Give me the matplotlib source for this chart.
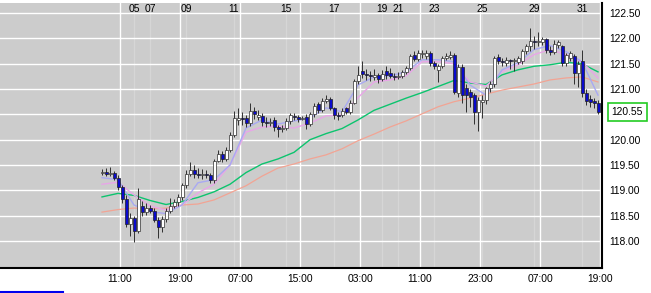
import matplotlib
matplotlib.use("Agg")
import matplotlib.pyplot as plt
import matplotlib.transforms as mtrans
from matplotlib.lines import Line2D
import numpy as np

plt.rcParams['font.family'] = ['Liberation Sans', 'DejaVu Sans']

# hourly-ish candles (125 bars)
opens = [119.34, 119.36, 119.32, 119.35, 119.25, 119.06, 118.82, 118.33, 118.45, 118.20,
         118.69, 118.58, 118.66, 118.60, 118.42, 118.27, 118.44, 118.60, 118.70, 118.76,
         118.86, 119.10, 119.32, 119.40, 119.33, 119.31, 119.33, 119.30, 119.20, 119.58,
         119.72, 119.62, 119.80, 120.10, 120.38, 120.42, 120.42, 120.33, 120.57, 120.45,
         120.47, 120.35, 120.33, 120.38, 120.25, 120.22, 120.24, 120.37, 120.47, 120.45,
         120.41, 120.45, 120.32, 120.50, 120.70, 120.58, 120.77, 120.80, 120.62, 120.48,
         120.48, 120.62, 120.55, 120.72, 121.15, 121.35, 121.30, 121.27, 121.24, 121.27,
         121.20, 121.35, 121.32, 121.26, 121.24, 121.26, 121.33, 121.42, 121.68, 121.60,
         121.70, 121.66, 121.72, 121.52, 121.37, 121.45, 121.62, 121.64, 121.68, 120.92,
         121.44, 121.02, 120.94, 120.88, 120.55, 120.75, 120.79, 121.02, 121.10, 121.64,
         121.55, 121.52, 121.56, 121.55, 121.53, 121.55, 121.76, 121.85, 121.95, 121.93,
         121.93, 121.98, 121.78, 121.74, 121.88, 121.85, 121.52, 121.62, 121.66, 121.32,
         121.55, 120.93, 120.80, 120.76, 120.73]
closes = [119.36, 119.32, 119.35, 119.25, 119.06, 118.82, 118.33, 118.45, 118.20, 118.82,
          118.58, 118.66, 118.60, 118.42, 118.27, 118.44, 118.60, 118.70, 118.76, 118.86,
          119.10, 119.32, 119.40, 119.33, 119.31, 119.33, 119.30, 119.20, 119.58, 119.72,
          119.62, 119.80, 120.10, 120.42, 120.42, 120.40, 120.33, 120.57, 120.50, 120.48,
          120.35, 120.33, 120.34, 120.25, 120.22, 120.24, 120.37, 120.48, 120.45, 120.41,
          120.43, 120.32, 120.50, 120.67, 120.58, 120.77, 120.80, 120.62, 120.48, 120.46,
          120.57, 120.54, 120.72, 121.15, 121.28, 121.30, 121.27, 121.25, 121.27, 121.20,
          121.30, 121.28, 121.26, 121.24, 121.26, 121.33, 121.42, 121.65, 121.60, 121.72,
          121.72, 121.72, 121.52, 121.45, 121.45, 121.62, 121.65, 121.68, 120.94, 121.44,
          120.88, 120.88, 120.84, 120.55, 120.79, 120.79, 121.02, 121.10, 121.62, 121.55,
          121.54, 121.58, 121.55, 121.56, 121.62, 121.76, 121.85, 121.95, 121.93, 121.95,
          121.98, 121.78, 121.74, 121.90, 121.92, 121.52, 121.68, 121.72, 121.32, 121.50,
          120.93, 120.76, 120.75, 120.73, 120.55]
highs = [119.42, 119.44, 119.47, 119.38, 119.30, 119.10, 118.90, 118.55, 118.50, 119.05,
         118.78, 118.75, 118.72, 118.65, 118.48, 118.50, 118.66, 118.85, 118.82, 118.92,
         119.15, 119.40, 119.56, 119.50, 119.45, 119.42, 119.40, 119.35, 119.62, 119.80,
         119.78, 119.85, 120.15, 120.57, 120.62, 120.55, 120.48, 120.72, 120.65, 120.58,
         120.52, 120.45, 120.42, 120.45, 120.30, 120.30, 120.42, 120.52, 120.52, 120.48,
         120.47, 120.50, 120.55, 120.72, 120.75, 120.83, 120.88, 120.85, 120.65, 120.55,
         120.62, 120.65, 120.78, 121.20, 121.45, 121.55, 121.40, 121.35, 121.40, 121.32,
         121.38, 121.45, 121.42, 121.32, 121.33, 121.38, 121.46, 121.70, 121.75, 121.78,
         121.78, 121.78, 121.76, 121.55, 121.50, 121.66, 121.72, 121.76, 121.72, 121.50,
         121.50, 121.10, 121.00, 120.92, 120.85, 120.88, 121.05, 121.15, 121.66, 121.70,
         121.62, 121.64, 121.60, 121.62, 121.66, 121.80, 121.90, 122.20, 122.05, 122.12,
         122.02, 122.00, 121.85, 121.96, 121.96, 121.88, 121.72, 121.76, 121.70, 121.55,
         121.77, 121.00, 120.88, 120.82, 120.78]
lows = [119.30, 119.28, 119.28, 119.20, 119.00, 118.75, 118.28, 118.10, 117.98, 118.15,
        118.50, 118.52, 118.55, 118.38, 118.05, 118.18, 118.38, 118.55, 118.65, 118.70,
        118.80, 119.05, 119.28, 119.25, 119.24, 119.22, 119.25, 119.15, 119.15, 119.55,
        119.55, 119.58, 119.75, 120.05, 120.30, 120.30, 120.25, 120.28, 120.40, 120.38,
        120.28, 120.25, 120.27, 120.18, 120.05, 120.15, 120.20, 120.32, 120.38, 120.35,
        120.38, 120.22, 120.28, 120.45, 120.52, 120.55, 120.72, 120.58, 120.40, 120.38,
        120.45, 120.50, 120.50, 120.70, 121.10, 121.22, 121.18, 121.15, 121.18, 121.12,
        121.15, 121.20, 121.22, 121.18, 121.20, 121.22, 121.30, 121.38, 121.55, 121.55,
        121.62, 121.60, 121.45, 121.40, 121.13, 121.42, 121.58, 121.60, 120.90, 120.85,
        120.72, 120.55, 120.65, 120.32, 120.18, 120.42, 120.70, 120.95, 121.05, 121.50,
        121.45, 121.45, 121.40, 121.35, 121.50, 121.50, 121.70, 121.75, 121.80, 121.85,
        121.88, 121.72, 121.68, 121.70, 121.82, 121.45, 121.45, 121.55, 121.10, 121.05,
        120.85, 120.68, 120.65, 120.62, 120.50]

# moving averages, read every 4th bar
ma_idx = list(range(0, 125, 4))
ma_fast = [119.25, 119.21, 118.71, 118.58, 118.54, 118.71, 119.15, 119.21, 119.50, 120.23,
           120.39, 120.31, 120.37, 120.43, 120.63, 120.55, 121.08, 121.24, 121.26, 121.34,
           121.58, 121.58, 121.54, 121.08, 120.88, 121.38, 121.52, 121.78, 121.86, 121.74,
           121.54, 120.88]
ma_mid = [119.12, 119.16, 118.91, 118.69, 118.61, 118.71, 118.95, 119.12, 119.50, 120.15,
          120.25, 120.27, 120.23, 120.33, 120.47, 120.49, 120.83, 121.14, 121.18, 121.26,
          121.54, 121.54, 121.50, 121.14, 121.06, 121.34, 121.48, 121.68, 121.78, 121.68,
          121.54, 121.22]
ma_green = [118.87, 118.94, 118.90, 118.80, 118.72, 118.78, 118.86, 118.97, 119.12, 119.35,
            119.52, 119.62, 119.75, 120.00, 120.12, 120.22, 120.39, 120.58, 120.70, 120.82,
            120.93, 121.05, 121.17, 121.12, 121.09, 121.28, 121.38, 121.45, 121.48, 121.53,
            121.50, 121.34]
ma_slow = [118.57, 118.62, 118.65, 118.63, 118.65, 118.71, 118.73, 118.81, 118.95, 119.09,
           119.28, 119.44, 119.52, 119.62, 119.70, 119.82, 119.98, 120.11, 120.25, 120.37,
           120.51, 120.65, 120.75, 120.82, 120.90, 120.98, 121.04, 121.10, 121.18, 121.22,
           121.24, 121.14]

time_pos = [4.5, 19.5, 34.5, 49.5, 64.5, 79.5, 94.5, 109.5, 124.5]
time_labels = ['11:00', '19:00', '07:00', '15:00', '03:00', '11:00', '23:00', '07:00', '19:00']
date_pos = [8, 12, 21, 33, 46, 58, 70, 74, 83, 95, 108, 120]
date_labels = ['05', '07', '09', '11', '15', '17', '19', '21', '23', '25', '29', '31']
price_ticks = [118.0, 118.5, 119.0, 119.5, 120.0, 120.5, 121.0, 121.5, 122.0, 122.5]

W, H = 651, 293
fig = plt.figure(figsize=(W / 100, H / 100), dpi=100)
ax = fig.add_axes([0, 25 / H, 602 / W, 265 / H])
ax.set_facecolor('#cccccc')
ax.set_xlim(-25.5, 125)
ax.set_ylim(117.466, 122.70)

# grid
for v in price_ticks:
    ax.axhline(v, color='white', lw=1, zorder=0.5)
for p in date_pos:
    ax.axvline(p, color='#d6d6d6', lw=1, zorder=0.4)
for p in time_pos:
    ax.axvline(p, color='white', lw=1, zorder=0.5)

# moving averages
ax.plot(ma_idx, ma_slow, color='#f2a494', lw=0.9, zorder=2)
ax.plot(ma_idx, ma_green, color='#0cc46e', lw=1.0, zorder=2)
ax.plot(ma_idx, ma_mid, color='#e8a6e8', lw=1.0, zorder=2)
ax.plot(ma_idx, ma_fast, color='#a9a9f2', lw=1.0, zorder=2)

# candles
x = np.arange(len(closes))
o = np.array(opens); c = np.array(closes)
ax.vlines(x, lows, highs, color='#303030', lw=0.7, zorder=3)
up = c >= o
bot = np.minimum(o, c)
ht = np.maximum(np.abs(c - o), 0.02)
ax.bar(x[up], ht[up], bottom=bot[up], width=0.75, color='white',
       edgecolor='#303030', lw=0.5, zorder=4)
ax.bar(x[~up], ht[~up], bottom=bot[~up], width=0.75, color='#0a0acc',
       edgecolor='#202020', lw=0.5, zorder=4)

# axes / ticks
for s in ['left', 'top']:
    ax.spines[s].set_visible(False)
ax.spines['right'].set_linewidth(1.5)
ax.spines['bottom'].set_linewidth(1.5)
ax.yaxis.tick_right()
ax.set_yticks(price_ticks)
last = closes[-1]
ax.set_yticklabels(['' if abs(v - last) < 0.1 else f'{v:.2f}' for v in price_ticks])
ax.set_xticks(time_pos)
ax.set_xticklabels(time_labels)
ax.tick_params(axis='both', length=0, labelsize=7.4, colors='black')
ax.tick_params(axis='y', pad=5)
ax.tick_params(axis='x', pad=4)

trans = mtrans.blended_transform_factory(ax.transData, ax.transAxes)
for p, lab in zip(date_pos, date_labels):
    ax.text(p, 0.978, lab, transform=trans, ha='center', va='center', fontsize=7.4)

# last price box
trans_y = mtrans.blended_transform_factory(ax.transAxes, ax.transData)
ax.text(1.016, last, f'{last:.2f}', transform=trans_y, ha='left', va='center',
        fontsize=7.4, clip_on=False,
        bbox=dict(boxstyle='square,pad=0.38', fc='white', ec='#22cc22', lw=1.2))

fig.add_artist(Line2D([0, 63 / W], [1.2 / H, 1.2 / H], color='#0000ee', lw=1.5))

fig.savefig('out.png', dpi=100)
